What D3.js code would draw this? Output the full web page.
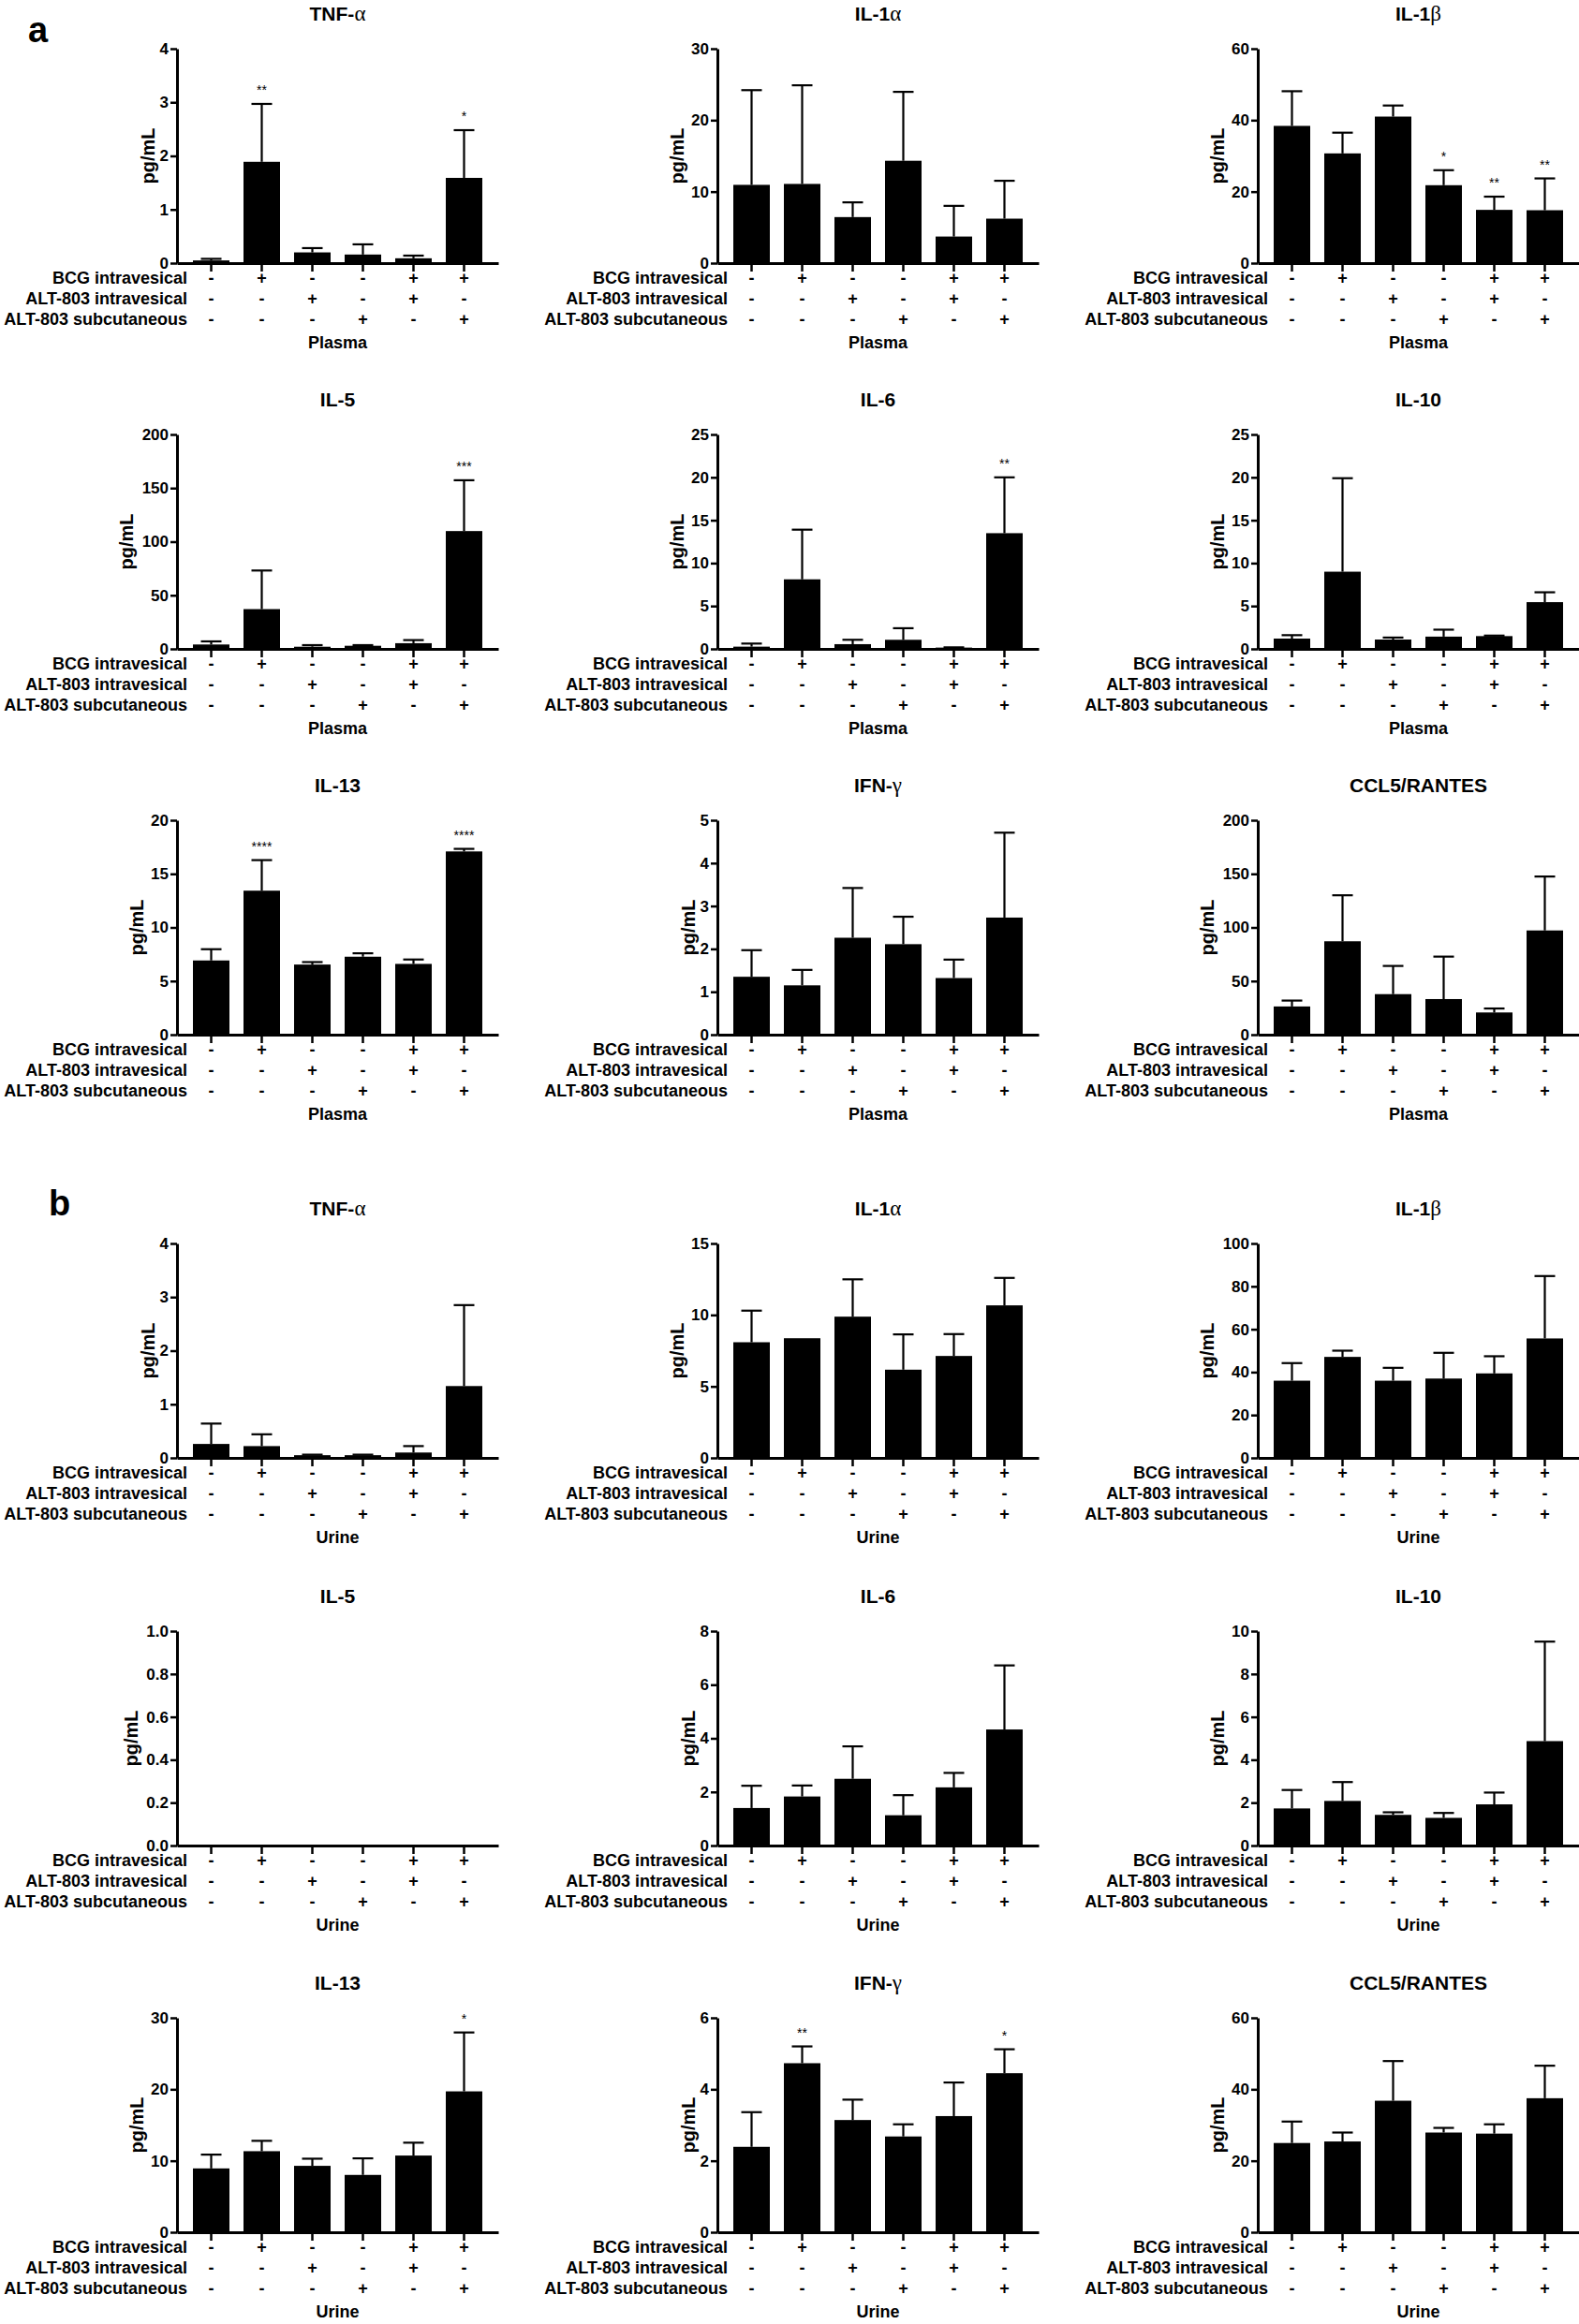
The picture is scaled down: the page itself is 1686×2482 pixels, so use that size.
<!DOCTYPE html>
<html><head><meta charset="utf-8">
<script src="https://cdn.jsdelivr.net/npm/d3@7"></script>
<style>
body{margin:0;background:#fff;}
svg text{font-family:"Liberation Sans",Arial,Helvetica,sans-serif;fill:#000;}
</style></head><body>
<svg id="fig" width="1686" height="2482"></svg>
<script>
// ---------------- DATA ----------------
const groups = ["Control","BCG","ALT-803 IVe","ALT-803 SC","BCG + ALT-803 IVe","BCG + ALT-803 SC"];
const treatments = ["BCG intravesical","ALT-803 intravesical","ALT-803 subcutaneous"];
const bcgSigns      = ["-","+","-","-","+","+"];
const alt803IveSigns = ["-","-","+","-","+","-"];
const alt803ScSigns  = ["-","-","-","+","-","+"];
const cytokines = ["TNF-α","IL-1α","IL-1β","IL-5","IL-6","IL-10","IL-13","IFN-γ","CCL5/RANTES"];
const specimens = ["Plasma","Urine"];
const panelLetters = ["a","b"];

// Plasma: mean and SEM (pg/mL)
const plasmaTNFaMean = [0.05, 1.89, 0.20, 0.16, 0.09, 1.59];
const plasmaTNFaSem  = [0.03, 1.08, 0.08, 0.19, 0.05, 0.89];
const plasmaTNFaSig  = ["", "**", "", "", "", "*"];
const plasmaIL1aMean = [10.95, 11.08, 6.44, 14.32, 3.72, 6.22];
const plasmaIL1aSem  = [13.25, 13.80, 2.06, 9.64, 4.29, 5.30];
const plasmaIL1aSig  = ["", "", "", "", "", ""];
const plasmaIL1bMean = [38.4, 30.7, 41.0, 21.8, 14.9, 14.8];
const plasmaIL1bSem  = [9.7, 5.8, 3.1, 4.2, 3.7, 8.9];
const plasmaIL1bSig  = ["", "", "", "*", "**", "**"];
const plasmaIL5Mean  = [4.1, 37.1, 2.0, 2.9, 5.3, 109.9];
const plasmaIL5Sem   = [2.9, 36.0, 1.5, 0.6, 2.9, 47.4];
const plasmaIL5Sig   = ["", "", "", "", "", "***"];
const plasmaIL6Mean  = [0.26, 8.11, 0.55, 1.06, 0.15, 13.49];
const plasmaIL6Sem   = [0.36, 5.79, 0.51, 1.35, 0.03, 6.51];
const plasmaIL6Sig   = ["", "", "", "", "", "**"];
const plasmaIL10Mean = [1.20, 9.00, 1.09, 1.43, 1.49, 5.45];
const plasmaIL10Sem  = [0.40, 10.90, 0.23, 0.81, 0.06, 1.15];
const plasmaIL10Sig  = ["", "", "", "", "", ""];
const plasmaIL13Mean = [6.92, 13.43, 6.54, 7.27, 6.60, 17.09];
const plasmaIL13Sem  = [1.05, 2.85, 0.23, 0.32, 0.41, 0.24];
const plasmaIL13Sig  = ["", "****", "", "", "", "****"];
const plasmaIFNgMean = [1.35, 1.15, 2.26, 2.11, 1.32, 2.73];
const plasmaIFNgSem  = [0.62, 0.36, 1.16, 0.64, 0.43, 1.98];
const plasmaIFNgSig  = ["", "", "", "", "", ""];
const plasmaCCL5Mean = [26.3, 87.1, 37.8, 33.2, 20.7, 97.2];
const plasmaCCL5Sem  = [5.5, 42.9, 26.3, 39.6, 3.7, 50.3];
const plasmaCCL5Sig  = ["", "", "", "", "", ""];

// Urine: mean and SEM (pg/mL)
const urineTNFaMean = [0.26, 0.22, 0.05, 0.05, 0.10, 1.34];
const urineTNFaSem  = [0.38, 0.22, 0.01, 0.01, 0.12, 1.51];
const urineTNFaSig  = ["", "", "", "", "", ""];
const urineIL1aMean = [8.09, 8.37, 9.88, 6.17, 7.13, 10.67];
const urineIL1aSem  = [2.21, 0, 2.61, 2.47, 1.53, 1.92];
const urineIL1aSig  = ["", "", "", "", "", ""];
const urineIL1bMean = [36.0, 47.1, 36.0, 37.0, 39.4, 55.7];
const urineIL1bSem  = [8.2, 2.9, 6.0, 12.0, 8.0, 29.1];
const urineIL1bSig  = ["", "", "", "", "", ""];
const urineIL5Mean  = [0, 0, 0, 0, 0, 0];
const urineIL5Sem   = [0, 0, 0, 0, 0, 0];
const urineIL5Sig   = ["", "", "", "", "", ""];
const urineIL6Mean  = [1.40, 1.83, 2.49, 1.13, 2.17, 4.33];
const urineIL6Sem   = [0.83, 0.41, 1.21, 0.75, 0.54, 2.39];
const urineIL6Sig   = ["", "", "", "", "", ""];
const urineIL10Mean = [1.73, 2.08, 1.43, 1.29, 1.92, 4.87];
const urineIL10Sem  = [0.86, 0.88, 0.12, 0.23, 0.55, 4.64];
const urineIL10Sig  = ["", "", "", "", "", ""];
const urineIL13Mean = [8.93, 11.34, 9.29, 8.02, 10.73, 19.71];
const urineIL13Sem  = [1.93, 1.45, 1.00, 2.32, 1.80, 8.24];
const urineIL13Sig  = ["", "", "", "", "", "*"];
const urineIFNgMean = [2.39, 4.73, 3.14, 2.68, 3.25, 4.45];
const urineIFNgSem  = [0.97, 0.47, 0.57, 0.34, 0.94, 0.67];
const urineIFNgSig  = ["", "**", "", "", "", "*"];
const urineCCL5Mean = [24.97, 25.4, 36.8, 27.9, 27.6, 37.5];
const urineCCL5Sem  = [6.0, 2.5, 11.1, 1.3, 2.6, 9.1];
const urineCCL5Sig  = ["", "", "", "", "", ""];

// Y-axis tick labels per panel
const plasmaTicks = [[0,1,2,3,4],[0,10,20,30],[0,20,40,60],[0,50,100,150,200],[0,5,10,15,20,25],[0,5,10,15,20,25],[0,5,10,15,20],[0,1,2,3,4,5],[0,50,100,150,200]];
const urineTicks  = [[0,1,2,3,4],[0,5,10,15],[0,20,40,60,80,100],[0,0.2,0.4,0.6,0.8,1.0],[0,2,4,6,8],[0,2,4,6,8,10],[0,10,20,30],[0,2,4,6],[0,20,40,60]];

// ---------------- LAYOUT ----------------
const colX = [189, 766, 1343];
const rowTop = [52, 464, 876, 1328, 1742, 2155];
const plotW = 343, plotH = 229;
const signRows = [bcgSigns, alt803IveSigns, alt803ScSigns];

const plasmaMeans = [plasmaTNFaMean, plasmaIL1aMean, plasmaIL1bMean, plasmaIL5Mean, plasmaIL6Mean, plasmaIL10Mean, plasmaIL13Mean, plasmaIFNgMean, plasmaCCL5Mean];
const plasmaSems  = [plasmaTNFaSem, plasmaIL1aSem, plasmaIL1bSem, plasmaIL5Sem, plasmaIL6Sem, plasmaIL10Sem, plasmaIL13Sem, plasmaIFNgSem, plasmaCCL5Sem];
const plasmaSigs  = [plasmaTNFaSig, plasmaIL1aSig, plasmaIL1bSig, plasmaIL5Sig, plasmaIL6Sig, plasmaIL10Sig, plasmaIL13Sig, plasmaIFNgSig, plasmaCCL5Sig];
const urineMeans = [urineTNFaMean, urineIL1aMean, urineIL1bMean, urineIL5Mean, urineIL6Mean, urineIL10Mean, urineIL13Mean, urineIFNgMean, urineCCL5Mean];
const urineSems  = [urineTNFaSem, urineIL1aSem, urineIL1bSem, urineIL5Sem, urineIL6Sem, urineIL10Sem, urineIL13Sem, urineIFNgSem, urineCCL5Sem];
const urineSigs  = [urineTNFaSig, urineIL1aSig, urineIL1bSig, urineIL5Sig, urineIL6Sig, urineIL10Sig, urineIL13Sig, urineIFNgSig, urineCCL5Sig];

const svg = d3.select("#fig");

function titleText(sel, s) {
  const parts = s.split(/([αβγ])/).filter(p => p.length);
  parts.forEach(p => {
    const t = sel.append("tspan").text(p);
    if (/[αβγ]/.test(p)) t.style("font-family", "'Liberation Serif','DejaVu Serif',serif").attr("font-weight", "normal").attr("font-size", 23);
  });
}

function drawPanel(g, title, mean, sem, sig, ticks, specimen) {
  const x = d3.scaleBand().domain(groups).range([0, plotW]).paddingInner(0.278).paddingOuter(0.315);
  const y = d3.scaleLinear().domain([0, d3.max(ticks)]).range([plotH, 0]);
  const cx = d => x(d) + x.bandwidth() / 2;

  // title
  const tt = g.append("text").attr("x", plotW / 2).attr("y", -30).attr("text-anchor", "middle")
    .attr("font-size", 21).attr("font-weight", "bold");
  titleText(tt, title);

  // bars
  g.selectAll("rect.bar").data(groups).join("rect").attr("class", "bar")
    .attr("x", d => x(d)).attr("width", x.bandwidth())
    .attr("y", (d, i) => y(mean[i])).attr("height", (d, i) => plotH - y(mean[i]))
    .attr("fill", "#000");

  // error bars (upper only)
  const eb = g.append("g").attr("stroke", "#000").attr("stroke-width", 2.2);
  groups.forEach((d, i) => {
    if (sem[i] > 0) {
      const top = y(mean[i] + sem[i]);
      eb.append("line").attr("x1", cx(d)).attr("x2", cx(d)).attr("y1", y(mean[i])).attr("y2", top);
      eb.append("line").attr("x1", cx(d) - 11).attr("x2", cx(d) + 11).attr("y1", top).attr("y2", top);
    }
    if (sig[i]) {
      g.append("text").attr("x", cx(d)).attr("y", y(mean[i] + sem[i]) - 10).attr("text-anchor", "middle")
        .attr("font-size", 14).text(sig[i]);
    }
  });

  // y axis
  const decimals = ticks.some(t => t % 1 !== 0);
  const ya = g.append("g").call(d3.axisLeft(y).tickValues(ticks).tickSize(7).tickPadding(2).tickSizeOuter(0)
    .tickFormat(decimals ? d3.format(".1f") : d3.format("d")));
  ya.select(".domain").attr("stroke-width", 3).attr("stroke", "#000");
  ya.selectAll(".tick line").attr("stroke-width", 2.5).attr("stroke", "#000");
  ya.selectAll(".tick text").attr("font-size", 17).attr("font-weight", "bold").attr("fill", "#000");
  let maxW = 0;
  ya.selectAll(".tick text").each(function () { maxW = Math.max(maxW, this.getBBox().width); });

  // x axis
  const xa = g.append("g").attr("transform", `translate(0,${plotH})`)
    .call(d3.axisBottom(x).tickSize(9).tickSizeOuter(0).tickFormat(""));
  xa.select(".domain").attr("stroke-width", 3).attr("stroke", "#000");
  xa.selectAll(".tick line").attr("stroke-width", 2.5).attr("stroke", "#000");

  // y label
  g.append("text").attr("transform", `translate(${-(1.25 * maxW + 19)},${plotH / 2}) rotate(-90)`)
    .attr("dy", "0.35em").attr("text-anchor", "middle").attr("font-size", 20).attr("font-weight", "bold")
    .text("pg/mL");

  // treatment rows
  treatments.forEach((lab, r) => {
    const yy = plotH + 22 + 22 * r;
    g.append("text").attr("x", 11).attr("y", yy).attr("text-anchor", "end")
      .attr("font-size", 18).attr("font-weight", "bold").text(lab);
    g.selectAll(null).data(groups).join("text")
      .attr("x", d => cx(d)).attr("y", yy).attr("text-anchor", "middle")
      .attr("font-size", 18).attr("font-weight", "bold")
      .text((d, i) => signRows[r][i]);
  });

  // specimen label
  g.append("text").attr("x", plotW / 2).attr("y", plotH + 91).attr("text-anchor", "middle")
    .attr("font-size", 18).attr("font-weight", "bold").text(specimen);
}

[0, 1].forEach(s => {
  const means = s === 0 ? plasmaMeans : urineMeans;
  const sems = s === 0 ? plasmaSems : urineSems;
  const sigs = s === 0 ? plasmaSigs : urineSigs;
  const ticks = s === 0 ? plasmaTicks : urineTicks;
  cytokines.forEach((c, k) => {
    const row = s * 3 + Math.floor(k / 3), col = k % 3;
    const g = svg.append("g").attr("transform", `translate(${colX[col]},${rowTop[row]})`);
    drawPanel(g, c, means[k], sems[k], sigs[k], ticks[k], specimens[s]);
  });
});

// panel letters
svg.append("text").attr("x", 30).attr("y", 45).attr("font-size", 38).attr("font-weight", "bold").text(panelLetters[0]);
svg.append("text").attr("x", 52).attr("y", 1298).attr("font-size", 38).attr("font-weight", "bold").text(panelLetters[1]);
</script>
</body></html>
